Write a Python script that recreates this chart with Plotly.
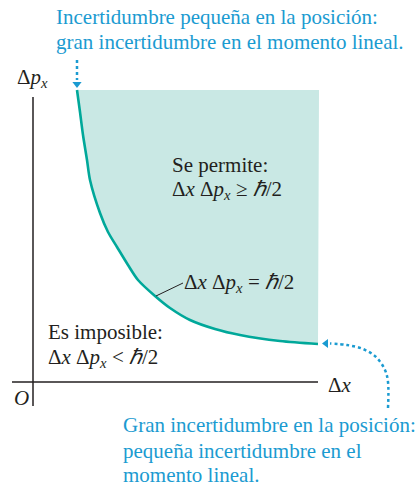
import plotly.graph_objects as go

# curve Δx·Δp = ħ/2 (arbitrary units, origin at O)
curve_dx = [44, 47, 50, 54, 57, 67, 75, 84, 95, 105, 122, 137, 157, 182, 207, 247, 285]
curve_dp = [292, 270, 247, 222, 202, 169, 150, 135, 117, 102, 86, 74, 62, 53, 47, 41, 38]
region_right = 286
region_top = 292

# dotted callout paths
top_arrow_x = [44, 44]
top_arrow_y = [322, 302]
bot_arrow_x = [355, 355, 352, 343, 330, 314, 297]
bot_arrow_y = [-26, 0, 12, 25, 33, 37, 38.5]

BLUE = "#1b9bd1"
TEAL = "#00a89a"
FILL = "#c9e8e4"
INK = "#231f20"
FONT = "Liberation Serif"

fig = go.Figure()

# allowed region
fig.add_trace(go.Scatter(
    x=curve_dx + [region_right, curve_dx[0]],
    y=curve_dp + [region_top, region_top],
    fill="toself", fillcolor=FILL, mode="none", hoverinfo="skip",
))
# boundary curve
fig.add_trace(go.Scatter(
    x=curve_dx, y=curve_dp, mode="lines",
    line=dict(color=TEAL, width=2.6, shape="spline", smoothing=0.8),
))

# dotted arrows
fig.add_trace(go.Scatter(
    x=top_arrow_x, y=top_arrow_y, mode="lines",
    line=dict(color=BLUE, width=2.5, dash="dot"),
))
fig.add_trace(go.Scatter(
    x=bot_arrow_x, y=bot_arrow_y, mode="lines",
    line=dict(color=BLUE, width=2.5, dash="dot", shape="spline"),
))
fig.add_trace(go.Scatter(
    x=[44], y=[298], mode="markers",
    marker=dict(symbol="triangle-down", size=8, color=BLUE),
))
fig.add_trace(go.Scatter(
    x=[293], y=[38.5], mode="markers",
    marker=dict(symbol="triangle-left", size=8, color=BLUE),
))

# axes
fig.add_shape(type="line", x0=0, x1=0, y0=-24, y1=285,
              line=dict(color=INK, width=1.5))
fig.add_shape(type="line", x0=-21, x1=285, y0=0, y1=0,
              line=dict(color=INK, width=1.5))
# pointer to the curve label
fig.add_shape(type="line", x0=123, x1=150, y0=86, y1=99,
              line=dict(color=INK, width=1))


def label(x, y, text, color=INK, anchor="left", size=21):
    fig.add_annotation(x=x, y=y, text=text, showarrow=False,
                       xanchor=anchor, yanchor="middle",
                       font=dict(family=FONT, size=size, color=color))


dx = "Δ<i>x</i>"
dp = "Δ<i>p</i><sub><i>x</i></sub>"

label(21, 365, "Incertidumbre pequeña en la posición:", BLUE)
label(21, 340, "gran incertidumbre en el momento lineal.", BLUE)
label(-1, 304, dp, anchor="center")
label(137, 217, "Se permite:")
label(137, 192, dx + " " + dp + " ≥ <i>ℏ</i>/2")
label(149, 99, dx + " " + dp + " = <i>ℏ</i>/2")
label(13, 50, "Es imposible:")
label(13, 24, dx + " " + dp + " &lt; <i>ℏ</i>/2")
label(293, -3, dx)
label(-12, -16, "<i>O</i>", anchor="center")
label(88, -43, "Gran incertidumbre en la posición:", BLUE)
label(88, -69, "pequeña incertidumbre en el", BLUE)
label(88, -93, "momento lineal.", BLUE)

fig.update_xaxes(range=[-33, 387], visible=False, fixedrange=True)
fig.update_yaxes(range=[-105, 382], visible=False, fixedrange=True)
fig.update_layout(
    width=420, height=487,
    margin=dict(l=0, r=0, t=0, b=0),
    paper_bgcolor="white", plot_bgcolor="white",
    showlegend=False,
    font=dict(family=FONT),
)

fig.write_html("out.html", config={"displayModeBar": False},
               post_script="document.body.style.margin='0';")
